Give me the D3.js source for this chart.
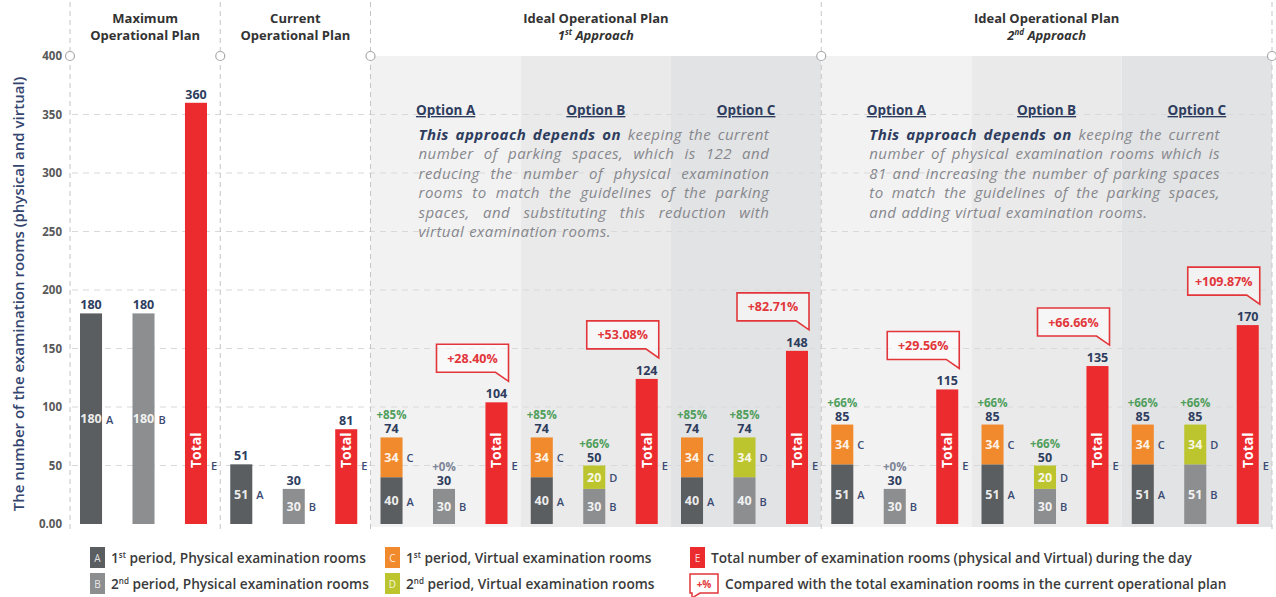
<!DOCTYPE html>
<html>
<head>
<meta charset="utf-8">
<script src="https://cdn.jsdelivr.net/npm/d3@7"></script>
<style>
  body { margin: 0; background: #fff; }
  svg { display: block; font-family: 'Open Sans', sans-serif; }
</style>
</head>
<body>
<script>
// chart values
const groups = ['max', 'current', 'i1a', 'i1b', 'i1c', 'i2a', 'i2b', 'i2c']
const valA = [180, 51, 40, 40, 40, 51, 51, 51]
const valB = [180, 30, 30, 30, 40, 30, 30, 51]
const valC = [0, 0, 34, 34, 34, 34, 34, 34]
const valD = [0, 0, 0, 20, 34, 0, 20, 34]
const totals = [360, 81, 104, 124, 148, 115, 135, 170]
const changeA = [null, null, '+85%', '+85%', '+85%', '+66%', '+66%', '+66%']
const changeB = [null, null, '+0%', '+66%', '+85%', '+0%', '+66%', '+66%']
const totalChange = [null, null, '+28.40%', '+53.08%', '+82.71%', '+29.56%', '+66.66%', '+109.87%']
const optionLabels = [null, null, 'Option A', 'Option B', 'Option C', 'Option A', 'Option B', 'Option C']
const yTicks = [0, 50, 100, 150, 200, 250, 300, 350, 400]

const sections = [
  { title: 'Maximum', sub: 'Operational Plan', from: 0, to: 0 },
  { title: 'Current', sub: 'Operational Plan', from: 1, to: 1 },
  { title: 'Ideal Operational Plan', sub: ['1', 'st', ' Approach'], from: 2, to: 4 },
  { title: 'Ideal Operational Plan', sub: ['2', 'nd', ' Approach'], from: 5, to: 7 },
]

const notes = [
  { from: 2, to: 4, lines: [
    'This approach depends on keeping the current',
    'number of parking spaces, which is 122 and',
    'reducing the number of physical examination',
    'rooms to match the guidelines of the parking',
    'spaces, and substituting this reduction with',
    'virtual examination rooms.'] },
  { from: 5, to: 7, lines: [
    'This approach depends on keeping the current',
    'number of physical examination rooms which is',
    '81 and increasing the number of parking spaces',
    'to match the guidelines of the parking spaces,',
    'and adding virtual examination rooms.'] },
]

const legendItems = [
  { key: 'A', pre: '1', sup: 'st', text: ' period, Physical examination rooms' },
  { key: 'B', pre: '2', sup: 'nd', text: ' period, Physical examination rooms' },
  { key: 'C', pre: '1', sup: 'st', text: ' period, Virtual examination rooms' },
  { key: 'D', pre: '2', sup: 'nd', text: ' period, Virtual examination rooms' },
  { key: 'E', pre: '', sup: '', text: 'Total number of examination rooms (physical and Virtual) during the day' },
  { key: '+%', pre: '', sup: '', text: 'Compared with the total examination rooms in the current operational plan' },
]

const colors = { A: '#5b5e60', B: '#8c8e90', C: '#f08a2c', D: '#bcc52e', E: '#ec2b2f' }
const NAVY = '#2e3d5e'
const GREEN = '#4f9e5c'
const RED = '#e2363a'

const WIDTH = 1276
const HEIGHT = 597

const svg = d3.select('body').append('svg')
  .attr('width', WIDTH)
  .attr('height', HEIGHT)

const x = d3.scaleBand().domain(groups).range([70, 1272])
const xi = d3.scaleBand().domain(['A', 'B', 'E']).range([10, 137]).paddingInner(0.58)
const y = d3.scaleLinear().domain([0, 400]).range([524, 56])

const bx = (g, k) => x(groups[g]) + xi(k)
const bw = xi.bandwidth()

// shaded option panels
const shades = ['#f2f2f2', '#eaeaea', '#e2e3e4']
svg.append('g')
  .selectAll('rect')
  .data(groups.slice(2))
  .join('rect')
  .attr('x', d => x(d))
  .attr('y', y(400))
  .attr('width', x.bandwidth())
  .attr('height', y(0) - y(400) + 3)
  .attr('fill', (d, i) => shades[i % 3])

// gridlines
svg.append('g')
  .selectAll('line')
  .data(yTicks.filter(t => t > 0 && t < 400))
  .join('line')
  .attr('x1', 72).attr('x2', 1270)
  .attr('y1', d => y(d)).attr('y2', d => y(d))
  .attr('stroke', '#d9d9d9')
  .attr('stroke-dasharray', '6,5')

// section dividers
const dividers = sections.map(s => x(groups[s.from])).concat([x.range()[1]])
svg.append('g')
  .selectAll('line')
  .data(dividers)
  .join('line')
  .attr('x1', d => d).attr('x2', d => d)
  .attr('y1', 2).attr('y2', 530)
  .attr('stroke', '#c9c3c3')
  .attr('stroke-dasharray', '5,4')
svg.append('g')
  .selectAll('circle')
  .data(dividers)
  .join('circle')
  .attr('cx', d => d).attr('cy', y(400)).attr('r', 4.5)
  .attr('fill', '#fff').attr('stroke', '#a9a9a9').attr('stroke-width', 1.2)

// y axis labels
svg.append('g')
  .selectAll('text')
  .data(yTicks)
  .join('text')
  .attr('x', 62)
  .attr('y', d => y(d) + 4)
  .attr('text-anchor', 'end')
  .attr('font-size', 11.5)
  .attr('font-weight', 700)
  .attr('fill', '#595959')
  .text(d => d === 0 ? '0.00' : d)

svg.append('text')
  .attr('transform', `translate(24, ${(y(0) + y(400)) / 2 + 4}) rotate(-90)`)
  .attr('text-anchor', 'middle')
  .attr('font-size', 15)
  .attr('font-weight', 600)
  .attr('fill', '#34466f')
  .text('The number of the examination rooms (physical and virtual)')

// section headers
sections.forEach(s => {
  const cx = (x(groups[s.from]) + x(groups[s.to]) + x.bandwidth()) / 2
  svg.append('text')
    .attr('x', cx).attr('y', 23)
    .attr('text-anchor', 'middle')
    .attr('font-size', 13)
    .attr('font-weight', 700)
    .attr('fill', '#333')
    .text(s.title)
  const sub = svg.append('text')
    .attr('x', cx).attr('y', 40)
    .attr('text-anchor', 'middle')
    .attr('font-size', 13)
    .attr('font-weight', 700)
    .attr('fill', '#333')
  if (typeof s.sub === 'string') {
    sub.text(s.sub)
  } else {
    sub.attr('font-style', 'italic')
    sub.append('tspan').text(s.sub[0])
    sub.append('tspan').attr('font-size', 8).attr('dy', -5).text(s.sub[1])
    sub.append('tspan').attr('dy', 5).text(s.sub[2])
  }
})

// option labels
groups.forEach((g, i) => {
  if (!optionLabels[i]) return
  svg.append('text')
    .attr('x', x(g) + x.bandwidth() / 2)
    .attr('y', 115)
    .attr('text-anchor', 'middle')
    .attr('font-size', 13.5)
    .attr('font-weight', 700)
    .attr('fill', NAVY)
    .attr('text-decoration', 'underline')
    .text(optionLabels[i])
})

// justified notes
notes.forEach(n => {
  const left = x(groups[n.from]) + 48
  const right = x(groups[n.to]) + x.bandwidth() - 52
  const boldWords = 4
  n.lines.forEach((line, li) => {
    const words = line.split(' ')
    const nodes = words.map((w, wi) => {
      const isBold = li === 0 && wi < boldWords
      return svg.append('text')
        .attr('y', 140 + li * 19.4)
        .attr('font-size', 15)
        .attr('font-style', 'italic')
        .attr('letter-spacing', 0.45)
        .attr('font-weight', isBold ? 700 : 400)
        .attr('fill', isBold ? NAVY : '#86878d')
        .text(w)
    })
    const widths = nodes.map(t => t.node().getComputedTextLength())
    const sum = d3.sum(widths)
    const last = li === n.lines.length - 1
    const gap = last ? 5 : (right - left - sum) / (words.length - 1)
    let cx = left
    nodes.forEach((t, k) => {
      t.attr('x', cx)
      cx += widths[k] + gap
    })
  })
})

// stacked bars
const bars = svg.append('g')
function segment(g, k, base, val, color, letter) {
  if (!val) return
  bars.append('rect')
    .attr('x', bx(g, k))
    .attr('y', y(base + val))
    .attr('width', bw)
    .attr('height', y(base) - y(base + val))
    .attr('fill', color)
  const cy = (y(base) + y(base + val)) / 2
  bars.append('text')
    .attr('x', bx(g, k) + bw / 2)
    .attr('y', cy + 4.5)
    .attr('text-anchor', 'middle')
    .attr('font-size', 12.5)
    .attr('font-weight', 700)
    .attr('fill', '#fff')
    .attr('fill-opacity', 0.9)
    .text(val)
  bars.append('text')
    .attr('x', bx(g, k) + bw + 4)
    .attr('y', cy + 5)
    .attr('font-size', 11)
    .attr('font-weight', 600)
    .attr('fill', '#3a4a72')
    .text(letter)
}

function topLabels(g, k, total, change) {
  bars.append('text')
    .attr('x', bx(g, k) + bw / 2)
    .attr('y', y(total) - 4)
    .attr('text-anchor', 'middle')
    .attr('font-size', 12.5)
    .attr('font-weight', 700)
    .attr('fill', NAVY)
    .text(total)
  if (change) {
    bars.append('text')
      .attr('x', bx(g, k) + bw / 2)
      .attr('y', y(total) - 18)
      .attr('text-anchor', 'middle')
      .attr('font-size', 11.5)
      .attr('font-weight', 700)
      .attr('fill', change === '+0%' ? '#7d8496' : GREEN)
      .text(change)
  }
}

groups.forEach((g, i) => {
  segment(i, 'A', 0, valA[i], colors.A, 'A')
  segment(i, 'A', valA[i], valC[i], colors.C, 'C')
  segment(i, 'B', 0, valB[i], colors.B, 'B')
  segment(i, 'B', valB[i], valD[i], colors.D, 'D')
  topLabels(i, 'A', valA[i] + valC[i], changeA[i])
  topLabels(i, 'B', valB[i] + valD[i], changeB[i])

  // total bar
  bars.append('rect')
    .attr('x', bx(i, 'E'))
    .attr('y', y(totals[i]))
    .attr('width', bw)
    .attr('height', y(0) - y(totals[i]))
    .attr('fill', colors.E)
  bars.append('text')
    .attr('transform', `translate(${bx(i, 'E') + bw / 2 + 5}, ${y(63)}) rotate(-90)`)
    .attr('text-anchor', 'middle')
    .attr('font-size', 14)
    .attr('font-weight', 700)
    .attr('fill', '#fff')
    .text('Total')
  bars.append('text')
    .attr('x', bx(i, 'E') + bw + 4)
    .attr('y', y(50) + 4)
    .attr('font-size', 11)
    .attr('font-weight', 600)
    .attr('fill', '#3a4a72')
    .text('E')
  topLabels(i, 'E', totals[i], null)

  // callout
  if (totalChange[i]) {
    const r = bx(i, 'E') + bw + 1
    const l = r - 72
    const b = y(totals[i]) - 30
    const t = b - 28
    const tip = y(totals[i]) - 21
    bars.append('path')
      .attr('d', `M${l},${t}H${r}V${tip}L${r - 13},${b}H${l}Z`)
      .attr('fill', '#fff')
      .attr('fill-opacity', 0.55)
      .attr('stroke', RED)
      .attr('stroke-width', 1.6)
    bars.append('text')
      .attr('x', (l + r) / 2)
      .attr('y', (t + b) / 2 + 4.5)
      .attr('text-anchor', 'middle')
      .attr('font-size', 12.5)
      .attr('font-weight', 700)
      .attr('fill', RED)
      .text(totalChange[i])
  }
})

// legend
const legend = svg.append('g')
const legendCols = [90, 385, 690]
legendItems.forEach((d, i) => {
  const lx = legendCols[Math.floor(i / 2)]
  const ly = 558 + (i % 2) * 26
  if (d.key === '+%') {
    legend.append('path')
      .attr('d', `M${lx},${ly - 10}H${lx + 28}V${ly + 9}H${lx + 10}L${lx + 2},${ly + 14}V${ly + 9}H${lx}Z`)
      .attr('fill', '#fff')
      .attr('stroke', RED)
      .attr('stroke-width', 1.5)
    legend.append('text')
      .attr('x', lx + 14).attr('y', ly + 4)
      .attr('text-anchor', 'middle')
      .attr('font-size', 10)
      .attr('font-weight', 700)
      .attr('fill', RED)
      .text('+%')
  } else {
    legend.append('rect')
      .attr('x', lx).attr('y', ly - 11)
      .attr('width', 15).attr('height', 21)
      .attr('fill', colors[d.key])
    legend.append('text')
      .attr('x', lx + 7.5).attr('y', ly + 3.5)
      .attr('text-anchor', 'middle')
      .attr('font-size', 10)
      .attr('fill', '#fff')
      .attr('fill-opacity', 0.85)
      .text(d.key)
  }
  const tx = legend.append('text')
    .attr('x', lx + (d.key === '+%' ? 35 : 21))
    .attr('y', ly + 5)
    .attr('font-size', 13.7)
    .attr('font-weight', 600)
    .attr('fill', '#3b3b3b')
  if (d.pre) {
    tx.append('tspan').text(d.pre)
    tx.append('tspan').attr('font-size', 8).attr('dy', -5).text(d.sup)
    tx.append('tspan').attr('dy', 5).text(d.text)
  } else {
    tx.text(d.text)
  }
})
</script>
</body>
</html>
